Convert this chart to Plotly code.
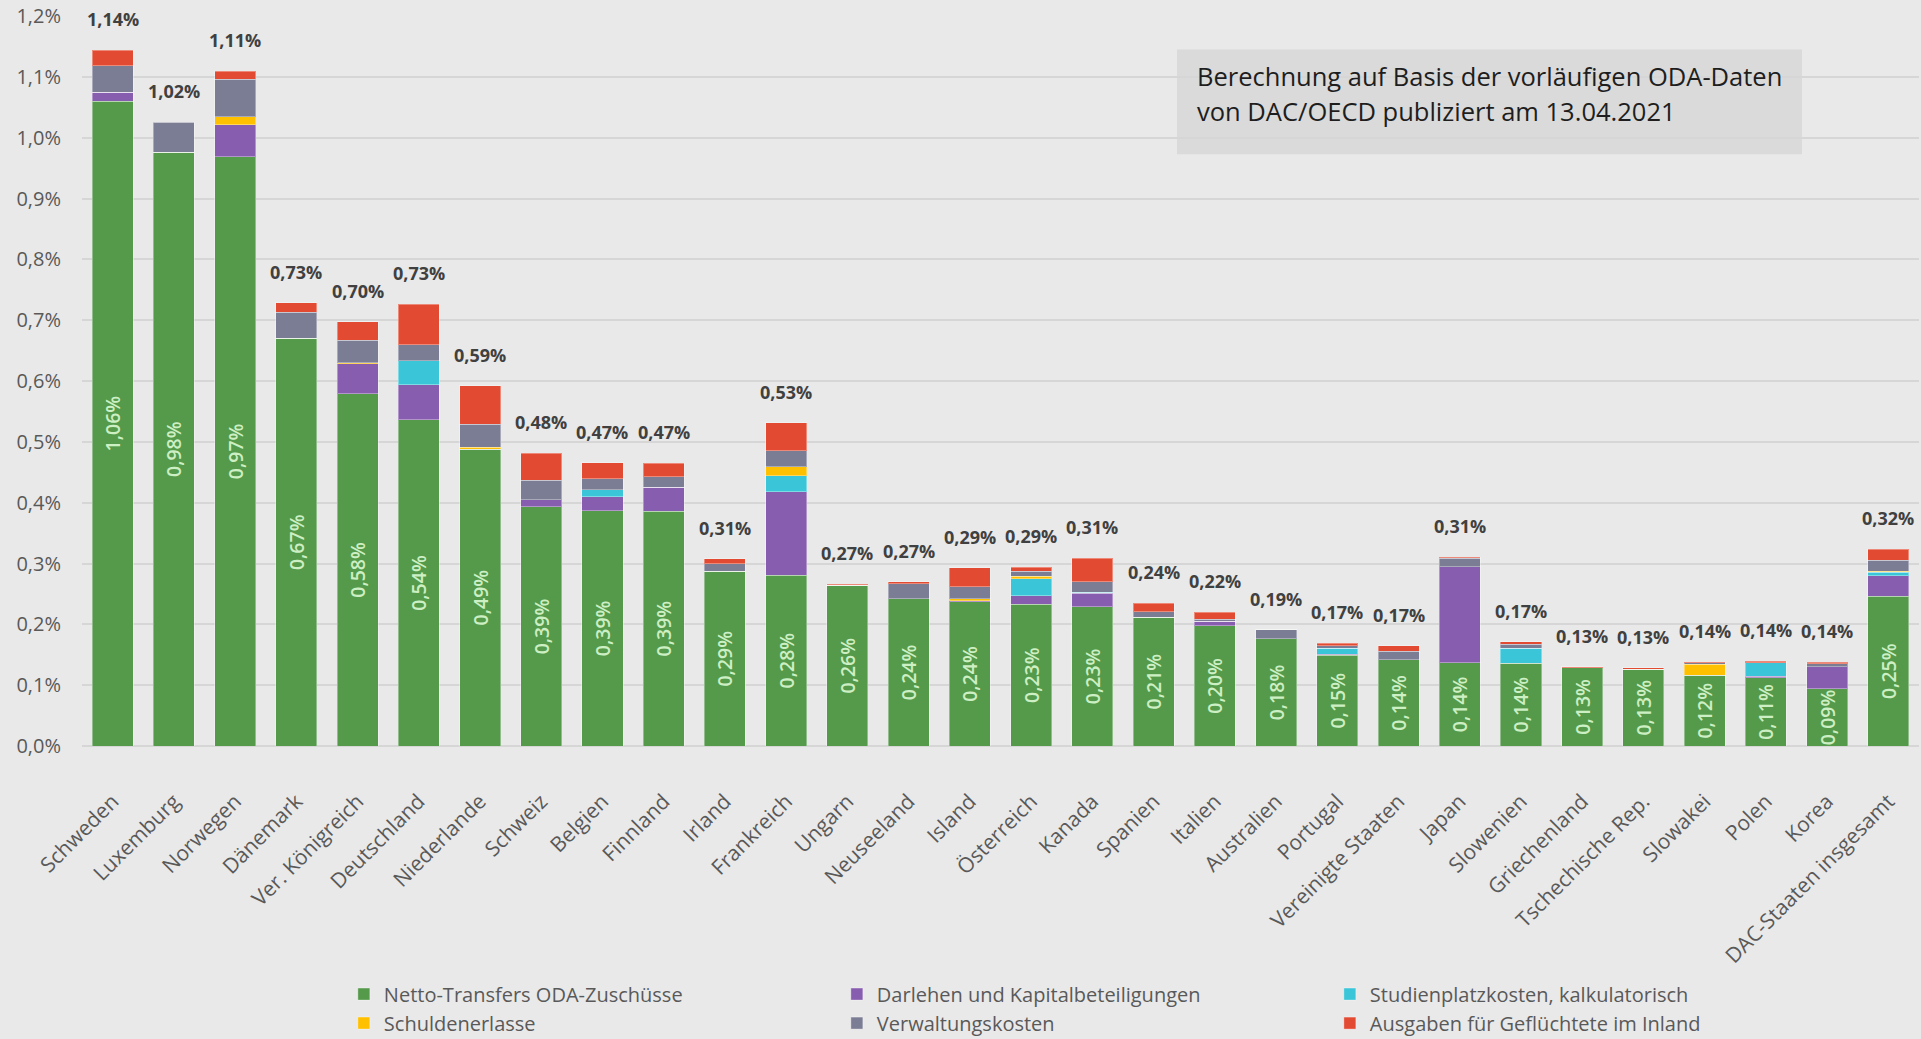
import plotly.graph_objects as go

# ---------------- data (values in % of GNI) ----------------
countries = ["Schweden", "Luxemburg", "Norwegen", "Dänemark", "Ver. Königreich", "Deutschland",
             "Niederlande", "Schweiz", "Belgien", "Finnland", "Irland", "Frankreich", "Ungarn",
             "Neuseeland", "Island", "Österreich", "Kanada", "Spanien", "Italien", "Australien",
             "Portugal", "Vereinigte Staaten", "Japan", "Slowenien", "Griechenland",
             "Tschechische Rep.", "Slowakei", "Polen", "Korea", "DAC-Staaten insgesamt"]

netto_transfers = [1.060, 0.976, 0.969, 0.670, 0.579, 0.536, 0.488, 0.393, 0.387, 0.386, 0.287, 0.281,
                   0.264, 0.242, 0.237, 0.233, 0.229, 0.212, 0.198, 0.176, 0.149, 0.142, 0.137, 0.136,
                   0.129, 0.126, 0.116, 0.112, 0.094, 0.246]
darlehen = [0.015, 0.0, 0.052, 0.0, 0.049, 0.058, 0.0, 0.012, 0.023, 0.039, 0.0, 0.137,
            0.0, 0.0, 0.002, 0.014, 0.022, 0.0, 0.007, 0.0, 0.002, 0.0, 0.158, 0.0,
            0.0, 0.0, 0.0, 0.003, 0.036, 0.034]
studienplatz = [0.0, 0.0, 0.0, 0.0, 0.0, 0.039, 0.0, 0.0, 0.011, 0.0, 0.0, 0.026,
                0.0, 0.0, 0.0, 0.028, 0.002, 0.0, 0.0, 0.0, 0.010, 0.0, 0.0, 0.025,
                0.0, 0.0, 0.0, 0.022, 0.0, 0.006]
schuldenerlasse = [0.0, 0.0, 0.013, 0.0, 0.002, 0.0, 0.003, 0.0, 0.0, 0.0, 0.0, 0.015,
                   0.0, 0.0, 0.003, 0.004, 0.0, 0.0, 0.0, 0.0, 0.0, 0.0, 0.0, 0.0,
                   0.0, 0.0, 0.018, 0.0, 0.0, 0.0015]
verwaltung = [0.043, 0.049, 0.062, 0.043, 0.037, 0.027, 0.038, 0.032, 0.018, 0.018, 0.013, 0.026,
              0.0, 0.025, 0.020, 0.008, 0.017, 0.009, 0.003, 0.015, 0.004, 0.014, 0.014, 0.006,
              0.0, 0.0, 0.003, 0.0, 0.005, 0.018]
gefluechtete = [0.026, 0.0, 0.013, 0.016, 0.030, 0.066, 0.063, 0.044, 0.027, 0.022, 0.008, 0.046,
                0.002, 0.003, 0.031, 0.007, 0.039, 0.014, 0.012, 0.0, 0.004, 0.009, 0.001, 0.004,
                0.001, 0.003, 0.001, 0.002, 0.003, 0.018]
netto_labels = ["1,06%", "0,98%", "0,97%", "0,67%", "0,58%", "0,54%", "0,49%", "0,39%", "0,39%", "0,39%",
                "0,29%", "0,28%", "0,26%", "0,24%", "0,24%", "0,23%", "0,23%", "0,21%", "0,20%", "0,18%",
                "0,15%", "0,14%", "0,14%", "0,14%", "0,13%", "0,13%", "0,12%", "0,11%", "0,09%", "0,25%"]
total_labels = ["1,14%", "1,02%", "1,11%", "0,73%", "0,70%", "0,73%", "0,59%", "0,48%", "0,47%", "0,47%",
                "0,31%", "0,53%", "0,27%", "0,27%", "0,29%", "0,29%", "0,31%", "0,24%", "0,22%", "0,19%",
                "0,17%", "0,17%", "0,31%", "0,17%", "0,13%", "0,13%", "0,14%", "0,14%", "0,14%", "0,32%"]

series_names = ["Netto-Transfers ODA-Zuschüsse", "Darlehen und Kapitalbeteiligungen",
                "Studienplatzkosten, kalkulatorisch", "Schuldenerlasse", "Verwaltungskosten",
                "Ausgaben für Geflüchtete im Inland"]
series_values = [netto_transfers, darlehen, studienplatz, schuldenerlasse, verwaltung, gefluechtete]
series_colors = ["#559A4B", "#875DB0", "#3AC6D8", "#FFC000", "#7B7D94", "#E24A32"]

y_tick_vals = [0.0, 0.1, 0.2, 0.3, 0.4, 0.5, 0.6, 0.7, 0.8, 0.9, 1.0, 1.1, 1.2]
y_tick_text = ["0,0%", "0,1%", "0,2%", "0,3%", "0,4%", "0,5%", "0,6%", "0,7%", "0,8%", "0,9%",
               "1,0%", "1,1%", "1,2%"]
note_lines = ["Berechnung auf Basis der vorläufigen ODA-Daten", "von DAC/OECD publiziert am 13.04.2021"]

FONT = "Open Sans"
BG = "#E9E9E9"

fig = go.Figure()
for i, (name, vals, col) in enumerate(zip(series_names, series_values, series_colors)):
    if i == 0:
        kw = dict(
            text=netto_labels,
            textposition="inside",
            insidetextanchor="middle",
            textangle=-90,
            constraintext="none",
            insidetextfont=dict(family=FONT, size=19.5, color="#CDEFC4", weight=600),
        )
    else:
        kw = dict(textposition="none")
    fig.add_trace(go.Bar(
        x=countries, y=vals, name=name,
        marker=dict(color=col, line=dict(color="rgba(255,255,255,0.35)", width=1)),
        hoverinfo="skip", **kw))

# total labels above the stacks
totals = [sum(v[i] for v in series_values) for i in range(len(countries))]
for c, t, lab in zip(countries, totals, total_labels):
    fig.add_annotation(x=c, y=t, xref="x", yref="y", text=lab, showarrow=False,
                       yanchor="middle", yshift=31,
                       font=dict(family=FONT, size=18, color="#404040", weight="bold"))

# note box
fig.add_shape(type="rect", xref="paper", yref="paper",
              x0=(1177 - 82) / 1837, x1=(1802 - 82) / 1837,
              y0=(746 - 153) / 731.6, y1=(746 - 48) / 731.6,
              fillcolor="#DADADA", line=dict(width=0), layer="below")
for k, line in enumerate(note_lines):
    fig.add_annotation(xref="paper", yref="paper",
                       x=(1195 - 82) / 1837, y=(746 - (75 + 35 * k)) / 731.6,
                       xanchor="left", yanchor="middle", text=line, showarrow=False,
                       font=dict(family=FONT, size=25.5, color="#1E1E1E"))

fig.update_layout(
    width=1921, height=1039,
    margin=dict(l=82, r=2, t=14, b=293),
    paper_bgcolor=BG, plot_bgcolor=BG,
    barmode="stack", bargap=0.33,
    font=dict(family=FONT, color="#595959"),
    showlegend=True,
    legend=dict(orientation="h", xref="container", yref="container",
                x=0.179, y=0.062, xanchor="left", yanchor="top",
                entrywidth=448, entrywidthmode="pixels",
                traceorder="normal", bgcolor="rgba(0,0,0,0)",
                font=dict(family=FONT, size=20, color="#595959"),
                itemclick=False, itemdoubleclick=False),
    xaxis=dict(tickangle=-45, tickfont=dict(family=FONT, size=21, color="#595959"),
               showgrid=False, showline=False, ticks="", ticklabelstandoff=38,
               range=[-0.5, len(countries) - 0.5]),
    yaxis=dict(range=[0, 1.2], tickvals=y_tick_vals, ticktext=y_tick_text,
               tickfont=dict(family=FONT, size=20, color="#595959"),
               showgrid=True, gridcolor="#D6D6D6", gridwidth=2,
               zeroline=True, zerolinecolor="#D6D6D6", zerolinewidth=2,
               ticks="", ticklabelstandoff=20),
)

fig.write_html("out.html")
